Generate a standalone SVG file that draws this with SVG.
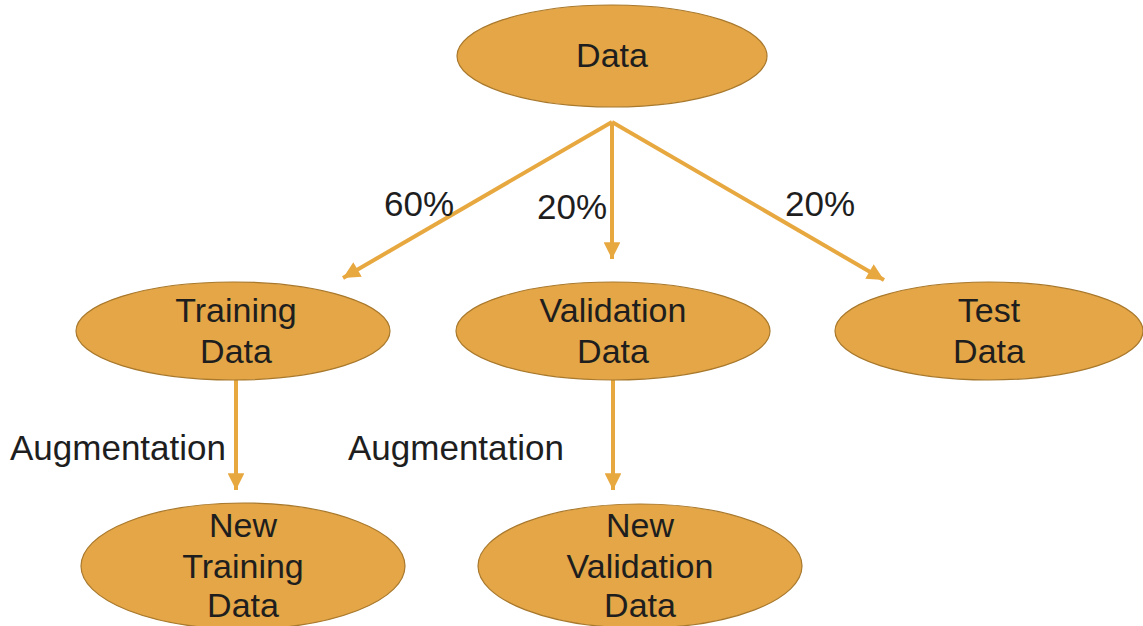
<svg xmlns="http://www.w3.org/2000/svg" width="1143" height="626" viewBox="0 0 1143 626">
  <defs>
    <style>
      .node ellipse { fill: #E4A646; stroke: #A8782C; stroke-width: 1.2; }
      .node text { font-family: "Liberation Sans", Arial, sans-serif; font-size: 34px; fill: #1e1e1e; text-anchor: middle; }
      .lbl { font-family: "Liberation Sans", Arial, sans-serif; font-size: 35px; fill: #1e1e1e; }
      .conn line { stroke: #E8A840; stroke-width: 4; fill: none; }
    </style>
    <marker id="ah" viewBox="0 0 10 10" refX="10" refY="5" markerWidth="4.4" markerHeight="4.2" orient="auto" markerUnits="strokeWidth">
      <path d="M0,0 L10,5 L0,10 z" fill="#E8A840"/>
    </marker>
  </defs>
  <rect width="1143" height="626" fill="#ffffff"/>

  <g id="connectors" class="conn">
    <line x1="612" y1="122" x2="343" y2="278" marker-end="url(#ah)"/>
    <line x1="612" y1="122" x2="612" y2="259" marker-end="url(#ah)"/>
    <line x1="612" y1="122" x2="884" y2="280" marker-end="url(#ah)"/>
    <line x1="236" y1="380" x2="236" y2="490" marker-end="url(#ah)"/>
    <line x1="613" y1="380" x2="613" y2="490" marker-end="url(#ah)"/>
  </g>

  <g id="labels">
    <text class="lbl" x="384" y="216">60%</text>
    <text class="lbl" x="537" y="219">20%</text>
    <text class="lbl" x="785" y="216">20%</text>
    <text class="lbl" x="10" y="460">Augmentation</text>
    <text class="lbl" x="348" y="460">Augmentation</text>
  </g>

  <g id="node-data" class="node">
    <ellipse cx="612" cy="56" rx="155" ry="51"/>
    <text x="612" y="67">Data</text>
  </g>
  <g id="node-training" class="node">
    <ellipse cx="233" cy="331" rx="157" ry="49"/>
    <text x="236" y="322">Training</text>
    <text x="236" y="363">Data</text>
  </g>
  <g id="node-validation" class="node">
    <ellipse cx="613" cy="331" rx="157" ry="49"/>
    <text x="613" y="322">Validation</text>
    <text x="613" y="363">Data</text>
  </g>
  <g id="node-test" class="node">
    <ellipse cx="989" cy="331" rx="154" ry="49"/>
    <text x="989" y="322">Test</text>
    <text x="989" y="363">Data</text>
  </g>
  <g id="node-new-training" class="node">
    <ellipse cx="243" cy="566" rx="162" ry="63"/>
    <text x="243" y="537">New</text>
    <text x="243" y="578">Training</text>
    <text x="243" y="617">Data</text>
  </g>
  <g id="node-new-validation" class="node">
    <ellipse cx="640" cy="566" rx="162" ry="62"/>
    <text x="640" y="537">New</text>
    <text x="640" y="578">Validation</text>
    <text x="640" y="617">Data</text>
  </g>
</svg>
